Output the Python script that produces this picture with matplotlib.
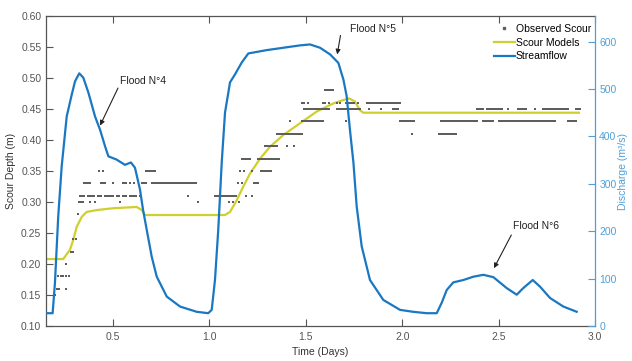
import numpy as np
import matplotlib
matplotlib.use("Agg")
import matplotlib.pyplot as plt
from matplotlib.lines import Line2D

plt.rcParams['font.family'] = ['Liberation Sans', 'DejaVu Sans']

# ---- Streamflow (discharge, m3/s) ----
flow_t = [0.150, 0.187, 0.199, 0.216, 0.234, 0.260, 0.286, 0.303, 0.325, 0.346,
          0.372, 0.407, 0.433, 0.459, 0.476, 0.519, 0.562, 0.593, 0.614, 0.640,
          0.656, 0.675, 0.701, 0.727, 0.779, 0.848, 0.934, 0.994, 1.012, 1.029,
          1.046, 1.064, 1.081, 1.107, 1.133, 1.168, 1.202, 1.297, 1.383, 1.470,
          1.522, 1.574, 1.626, 1.669, 1.695, 1.712, 1.729, 1.747, 1.764, 1.790,
          1.833, 1.902, 1.989, 2.056, 2.127, 2.179, 2.205, 2.231, 2.265, 2.317,
          2.369, 2.421, 2.473, 2.542, 2.594, 2.628, 2.677, 2.715, 2.767, 2.836,
          2.905]
flow_q = [27, 27, 91, 231, 337, 442, 488, 516, 533, 524,
          493, 442, 414, 379, 358, 351, 340, 345, 334, 288,
          245, 203, 146, 104, 62, 41, 30, 27, 34, 97,
          203, 345, 450, 514, 531, 556, 575, 582, 587, 592,
          594, 587, 573, 555, 520, 485, 414, 345, 252, 168,
          97, 55, 34, 30, 27, 27, 49, 76, 92, 97,
          104, 108, 103, 80, 66, 80, 97, 83, 59, 41,
          30]

# ---- Scour model (depth, m) ----
model_t = [0.150, 0.242, 0.277, 0.294, 0.312, 0.338, 0.364, 0.416, 0.502, 0.623,
           0.649, 0.666, 1.081, 1.107, 1.142, 1.176, 1.211, 1.263, 1.314, 1.383,
           1.470, 1.557, 1.643, 1.695, 1.726, 1.755, 1.781, 1.798, 2.917]
model_d = [0.208, 0.208, 0.223, 0.239, 0.260, 0.276, 0.284, 0.287, 0.290, 0.292,
           0.287, 0.279, 0.279, 0.284, 0.303, 0.325, 0.346, 0.370, 0.389, 0.408,
           0.427, 0.446, 0.459, 0.4645, 0.467, 0.462, 0.448, 0.444, 0.444]

# ---- Observed scour: measurement times (days) for each recorded depth ----
obs_levels = [0.15, 0.16, 0.18, 0.20, 0.22, 0.24, 0.28, 0.30, 0.31, 0.33,
              0.35, 0.37, 0.39, 0.41, 0.43, 0.45, 0.46, 0.48]
obs_015 = [0.199]
obs_016 = [0.210, 0.220, 0.258]
obs_018 = [0.216, 0.229, 0.242, 0.256, 0.273]
obs_020 = [0.256]
obs_022 = [0.282, 0.293]
obs_024 = [0.294, 0.308]
obs_028 = [0.317]
obs_030 = [0.325, 0.335, 0.346, 0.381, 0.407, 0.536, 0.939, 1.102, 1.122, 1.154]
obs_031 = [0.33, 0.34, 0.35, 0.37, 0.38, 0.39, 0.40, 0.42, 0.43, 0.44,
           0.46, 0.47, 0.48, 0.49, 0.50, 0.52, 0.53, 0.55, 0.56, 0.57,
           0.59, 0.60, 0.61, 0.62, 0.64, 0.89, 1.03, 1.04, 1.05, 1.06,
           1.07, 1.08, 1.09, 1.10, 1.11, 1.12, 1.13, 1.14, 1.19, 1.22]
obs_033 = [0.35, 0.36, 0.37, 0.38, 0.44, 0.45, 0.46, 0.50, 0.55, 0.56,
           0.57, 0.59, 0.61, 0.65, 0.66, 0.67, 0.70, 0.71, 0.72, 0.73,
           0.74, 0.75, 0.76, 0.77, 0.78, 0.79, 0.80, 0.81, 0.82, 0.83,
           0.84, 0.85, 0.86, 0.87, 0.88, 0.89, 0.90, 0.91, 0.92, 0.93,
           1.15, 1.17, 1.23, 1.24, 1.25]
obs_035 = [0.43, 0.45, 0.67, 0.68, 0.69, 0.70, 0.71, 0.72, 1.16, 1.18,
           1.22, 1.27, 1.28, 1.29, 1.30, 1.31, 1.32]
obs_037 = [1.17, 1.18, 1.19, 1.20, 1.21, 1.25, 1.26, 1.27, 1.28, 1.29,
           1.30, 1.31, 1.32, 1.33, 1.34, 1.35, 1.36]
obs_039 = [1.29, 1.30, 1.31, 1.32, 1.33, 1.34, 1.35, 1.40, 1.44]
obs_041 = [1.35, 1.36, 1.37, 1.38, 1.39, 1.40, 1.41, 1.42, 1.43, 1.44,
           1.45, 1.46, 1.47, 1.48, 2.05, 2.19, 2.20, 2.21, 2.22, 2.23,
           2.24, 2.25, 2.26, 2.27, 2.28]
obs_043 = [1.42, 1.48, 1.49, 1.50, 1.51, 1.52, 1.53, 1.54, 1.55, 1.56,
           1.57, 1.58, 1.59, 1.71, 1.99, 2.00, 2.01, 2.02, 2.03, 2.04,
           2.05, 2.06, 2.20, 2.21, 2.22, 2.23, 2.24, 2.25, 2.26, 2.27,
           2.28, 2.29, 2.30, 2.31, 2.32, 2.33, 2.34, 2.35, 2.36, 2.37,
           2.38, 2.39, 2.42, 2.43, 2.44, 2.45, 2.46, 2.47, 2.50, 2.51,
           2.52, 2.53, 2.54, 2.55, 2.56, 2.57, 2.58, 2.59, 2.60, 2.61,
           2.62, 2.63, 2.64, 2.65, 2.66, 2.67, 2.68, 2.69, 2.70, 2.71,
           2.72, 2.73, 2.74, 2.75, 2.76, 2.77, 2.78, 2.79, 2.86, 2.87,
           2.88, 2.89, 2.90]
obs_045 = [1.49, 1.50, 1.51, 1.52, 1.53, 1.54, 1.55, 1.56, 1.57, 1.58,
           1.59, 1.60, 1.61, 1.62, 1.66, 1.67, 1.68, 1.69, 1.70, 1.71,
           1.72, 1.73, 1.74, 1.75, 1.76, 1.77, 1.78, 1.83, 1.89, 1.95,
           1.96, 1.97, 1.98, 2.39, 2.40, 2.41, 2.42, 2.44, 2.45, 2.46,
           2.47, 2.48, 2.49, 2.50, 2.51, 2.52, 2.55, 2.60, 2.61, 2.62,
           2.63, 2.64, 2.69, 2.73, 2.74, 2.75, 2.76, 2.77, 2.78, 2.79,
           2.80, 2.81, 2.82, 2.83, 2.84, 2.85, 2.86, 2.90, 2.91, 2.92]
obs_046 = [1.48, 1.49, 1.51, 1.59, 1.60, 1.62, 1.66, 1.68, 1.71, 1.72,
           1.73, 1.74, 1.75, 1.77, 1.82, 1.83, 1.84, 1.85, 1.86, 1.87,
           1.88, 1.89, 1.90, 1.91, 1.92, 1.93, 1.94, 1.95, 1.96, 1.97,
           1.98, 1.99]
obs_048 = [1.60, 1.61, 1.62, 1.63, 1.64]

obs_groups = [obs_015, obs_016, obs_018, obs_020, obs_022, obs_024, obs_028,
              obs_030, obs_031, obs_033, obs_035, obs_037, obs_039, obs_041,
              obs_043, obs_045, obs_046, obs_048]
obs_time = np.concatenate([np.asarray(g, float) for g in obs_groups])
obs_depth = np.concatenate([np.full(len(g), lev) for g, lev in zip(obs_groups, obs_levels)])

# ---- Flood labels: (text, text position, arrow tail, arrow tip) in (days, discharge) ----
flood_names = ["Flood N°4", "Flood N°5", "Flood N°6"]
flood_text_xy = [(0.537, 516), (1.729, 627), (2.575, 210)]
flood_tail_xy = [(0.526, 502), (1.680, 613), (2.566, 192)]
flood_tip_xy = [(0.433, 423), (1.663, 573), (2.476, 122)]

x_ticks = [0.5, 1.0, 1.5, 2.0, 2.5, 3.0]
depth_ticks = [0.10, 0.15, 0.20, 0.25, 0.30, 0.35, 0.40, 0.45, 0.50, 0.55, 0.60]
flow_ticks = [0, 100, 200, 300, 400, 500, 600]

# ---- Styling ----
BLUE = '#1a78c2'
AXBLUE = '#4f9fd8'
YELLOW = '#cfcf2e'
GREY = '#555555'
DOT = '#5e5e5e'
FS = 7.5

fig = plt.figure(figsize=(6.32, 3.61), dpi=100)
ax = fig.add_axes([45.5 / 632, 35 / 361, (595 - 45.5) / 632, (326 - 16) / 361])
ax2 = ax.twinx()

# Scour data on the left axis
ax.scatter(obs_time, obs_depth, marker='s', s=1.2, color=DOT,
           linewidths=0, zorder=3)
ax.plot(model_t, model_d, color=YELLOW, lw=1.6, zorder=2)

# Streamflow on the right axis
ax2.plot(flow_t, flow_q, color=BLUE, lw=1.6, zorder=2)

ax.set_xlim(0.15, 3.0)
ax.set_ylim(0.10, 0.60)
ax2.set_ylim(0, 654)

ax.set_xticks(x_ticks)
ax.set_xticklabels([f"{v:.1f}" for v in x_ticks])
ax.set_yticks(depth_ticks)
ax.set_yticklabels([f"{v:.2f}" for v in depth_ticks])
ax2.set_yticks(flow_ticks)
ax2.set_yticklabels([str(v) for v in flow_ticks])

ax.tick_params(axis='x', direction='in', length=5, width=0.8, colors=GREY,
               labelsize=FS, top=True, pad=4)
ax.tick_params(axis='y', direction='in', length=5, width=0.8, colors=GREY,
               labelsize=FS, right=False, pad=3)
ax2.tick_params(axis='y', direction='in', length=5, width=0.8, colors=AXBLUE,
                labelsize=FS, pad=3)

for s in ['left', 'bottom', 'top']:
    ax.spines[s].set_color(GREY)
    ax.spines[s].set_linewidth(0.9)
ax.spines['right'].set_visible(False)
for s in ['left', 'bottom', 'top']:
    ax2.spines[s].set_visible(False)
ax2.spines['right'].set_color(AXBLUE)
ax2.spines['right'].set_linewidth(0.9)

ax.set_xlabel("Time (Days)", fontsize=FS, color='#333333', labelpad=4)
ax.set_ylabel("Scour Depth (m)", fontsize=FS, color='#333333', labelpad=4)
ax2.set_ylabel("Discharge (m³/s)", fontsize=FS, color=AXBLUE, labelpad=1)

for name, txy, tail, tip in zip(flood_names, flood_text_xy, flood_tail_xy, flood_tip_xy):
    ax2.text(txy[0], txy[1], name, fontsize=FS, color='#222222',
             ha='left', va='center')
    ax2.annotate('', xy=tip, xytext=tail,
                 arrowprops=dict(arrowstyle='-|>', color='#222222', lw=0.8,
                                 mutation_scale=7, shrinkA=0, shrinkB=0))

handles = [Line2D([], [], ls='none', marker='s', ms=1.6, color=DOT),
           Line2D([], [], color=YELLOW, lw=1.6),
           Line2D([], [], color=BLUE, lw=1.6)]
ax2.legend(handles, ["Observed Scour", "Scour Models", "Streamflow"],
           loc='upper right', bbox_to_anchor=(593 / 632, 1 - 22 / 361),
           bbox_transform=fig.transFigure, frameon=False, fontsize=FS,
           handlelength=2.0, handletextpad=0.1, labelspacing=0.35,
           borderpad=0.2, borderaxespad=0)

fig.savefig("out.png", dpi=100)
